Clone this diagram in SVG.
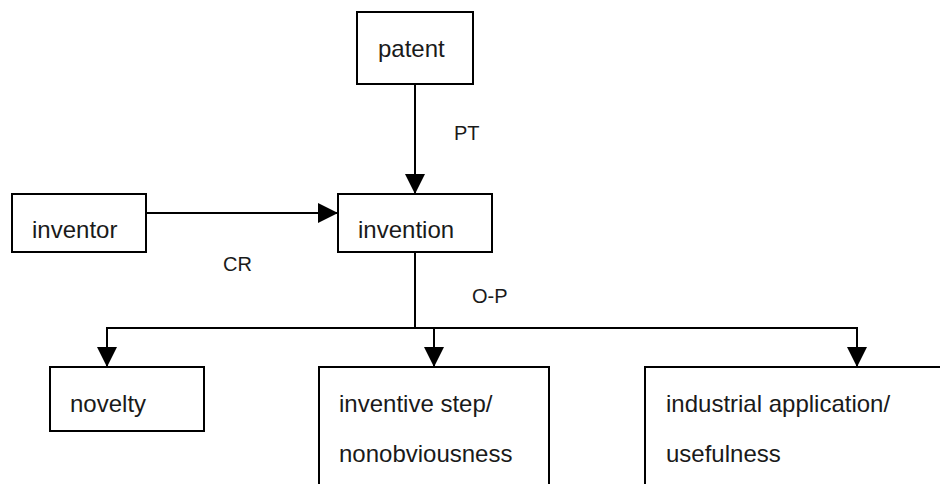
<svg xmlns="http://www.w3.org/2000/svg" width="940" height="484" viewBox="0 0 940 484">
<style>
.box{fill:#fff;stroke:#000;stroke-width:2}
.t{font-family:"Liberation Sans",Arial,sans-serif;font-size:24px;fill:#1a1a1a}
.l{font-family:"Liberation Sans",Arial,sans-serif;font-size:20px;fill:#1a1a1a}
.c{fill:none;stroke:#000;stroke-width:2}
</style>
<defs>
<marker id="ah" markerUnits="userSpaceOnUse" markerWidth="20" markerHeight="20" refX="20" refY="10" orient="auto" viewBox="0 0 20 20">
<path d="M0,0 L20,10 L0,20 Z" fill="#000"/>
</marker>
</defs>
<rect width="940" height="484" fill="#fff"/>
<g id="connectors">
<line class="c" x1="415" y1="84" x2="415" y2="194" marker-end="url(#ah)"/>
<line class="c" x1="146" y1="213" x2="338" y2="213" marker-end="url(#ah)"/>
<polyline class="c" points="415,252 415,328"/>
<polyline class="c" points="107,328 857,328"/>
<line class="c" x1="107" y1="327" x2="107" y2="367" marker-end="url(#ah)"/>
<line class="c" x1="434" y1="327" x2="434" y2="367" marker-end="url(#ah)"/>
<line class="c" x1="857" y1="327" x2="857" y2="367" marker-end="url(#ah)"/>
<text class="l" x="454" y="140">PT</text>
<text class="l" x="223" y="271">CR</text>
<text class="l" x="472" y="303">O-P</text>
</g>
<g id="patent"><rect class="box" x="357" y="12" width="116" height="72"/><text class="t" x="378" y="57">patent</text></g>
<g id="inventor"><rect class="box" x="12" y="194" width="134" height="58"/><text class="t" x="32" y="238">inventor</text></g>
<g id="invention"><rect class="box" x="338" y="194" width="154" height="58"/><text class="t" x="358" y="238">invention</text></g>
<g id="novelty"><rect class="box" x="50" y="367" width="154" height="64"/><text class="t" x="70" y="412">novelty</text></g>
<g id="inventive"><rect class="box" x="319" y="367" width="230" height="130"/><text class="t" x="339" y="412">inventive step/</text><text class="t" x="339" y="462">nonobviousness</text></g>
<g id="industrial"><rect class="box" x="645" y="367" width="310" height="130"/><text class="t" x="666" y="412">industrial application/</text><text class="t" x="666" y="462">usefulness</text></g>
</svg>
